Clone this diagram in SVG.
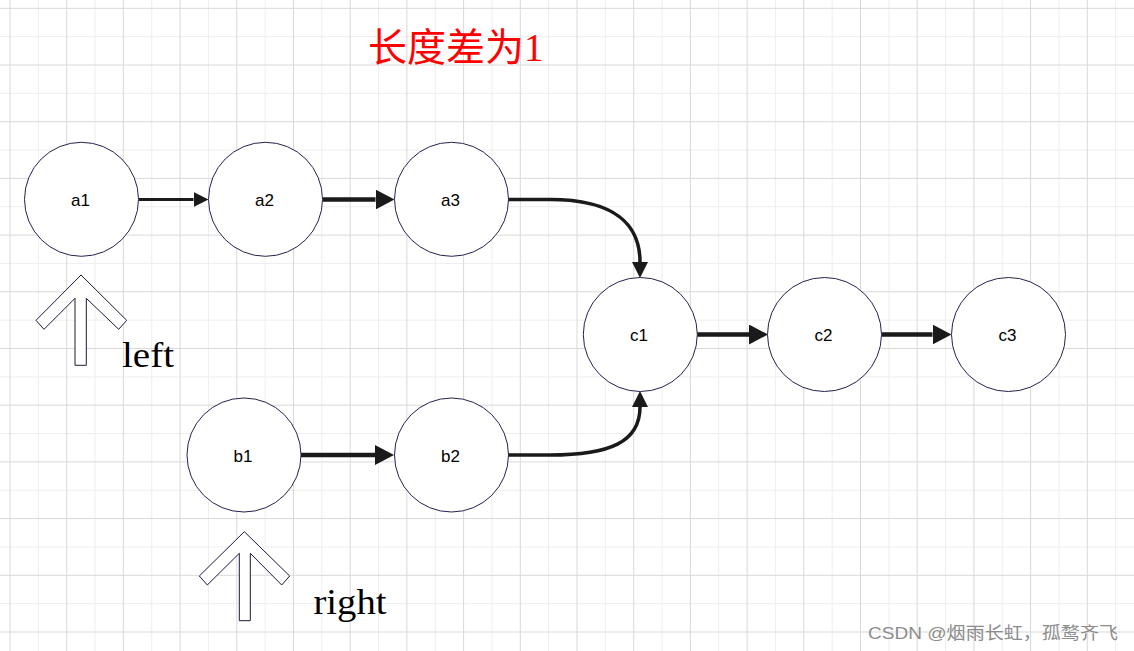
<svg xmlns="http://www.w3.org/2000/svg" width="1134" height="651" viewBox="0 0 1134 651">
<style>
.gd{stroke:#d9d9d9;stroke-width:1;fill:none}
.gl{stroke:#eeeeee;stroke-width:1;fill:none}
.node circle{fill:#ffffff;stroke:#23234f;stroke-width:1}
.node text{font-family:"Liberation Sans","Noto Sans",sans-serif;font-size:17px;fill:#000;text-anchor:middle}
.edge{fill:none;stroke:#1a1a1a}
.hollow{fill:#ffffff;stroke:#1a1a3a;stroke-width:1}
.lbl{font-family:"Liberation Serif",serif;font-size:36px;fill:#000}
</style>
<defs>
<marker id="hS" markerUnits="userSpaceOnUse" markerWidth="16" markerHeight="16" refX="0" refY="7.5" orient="auto" viewBox="0 0 16 16"><path d="M0,0 L15,7.5 L0,15 Z" fill="#1a1a1a"/></marker>
<marker id="hL" markerUnits="userSpaceOnUse" markerWidth="20" markerHeight="21" refX="0" refY="10" orient="auto" viewBox="0 0 20 21"><path d="M0,0 L19,10 L0,20 Z" fill="#1a1a1a"/></marker>
<marker id="hC" markerUnits="userSpaceOnUse" markerWidth="17" markerHeight="17" refX="0" refY="8" orient="auto" viewBox="0 0 17 17"><path d="M0,0 L16,8 L0,16 Z" fill="#1a1a1a"/></marker>
</defs>
<rect width="1134" height="651" fill="#ffffff"/>
<g id="grid">
<path class="gl" d="M38.35,0V651M95.05,0V651M151.75,0V651M208.45,0V651M265.15,0V651M321.85,0V651M378.55,0V651M435.25,0V651M491.95,0V651M548.65,0V651M605.35,0V651M662.05,0V651M718.75,0V651M775.45,0V651M832.15,0V651M888.85,0V651M945.55,0V651M1002.25,0V651M1058.95,0V651M1115.65,0V651M0,36.65H1134M0,93.35H1134M0,150.05H1134M0,206.75H1134M0,263.45H1134M0,320.15H1134M0,376.85H1134M0,433.55H1134M0,490.25H1134M0,546.95H1134M0,603.65H1134"/>
<path class="gd" d="M10,0V651M66.7,0V651M123.4,0V651M180.1,0V651M236.8,0V651M293.5,0V651M350.2,0V651M406.9,0V651M463.6,0V651M520.3,0V651M577,0V651M633.7,0V651M690.4,0V651M747.1,0V651M803.8,0V651M860.5,0V651M917.2,0V651M973.9,0V651M1030.6,0V651M1087.3,0V651M0,8.3H1134M0,65H1134M0,121.7H1134M0,178.4H1134M0,235.1H1134M0,291.8H1134M0,348.5H1134M0,405.2H1134M0,461.9H1134M0,518.6H1134M0,575.3H1134M0,632H1134"/>
</g>
<text x="368" y="61" font-family="'Liberation Serif','Noto Sans CJK SC',serif" font-size="39" fill="#ff0000">长度差为1</text>
<g id="connectors">
<path class="edge" stroke-width="3" d="M138.5,199.5 H193.5" marker-end="url(#hS)"/>
<path class="edge" stroke-width="4.5" d="M322.5,199.5 H375.5" marker-end="url(#hL)"/>
<path class="edge" stroke-width="4.5" d="M301,455 H375" marker-end="url(#hL)"/>
<path class="edge" stroke-width="4.5" d="M697,334.5 H749" marker-end="url(#hL)"/>
<path class="edge" stroke-width="4.5" d="M881.5,334.5 H932.5" marker-end="url(#hL)"/>
<path class="edge" stroke-width="3.5" d="M508,199.5 H550 C615,199.5 640,225 640,262" marker-end="url(#hC)"/>
<path class="edge" stroke-width="3.5" d="M508,455 H550 C610,455 640,442 640,407" marker-end="url(#hC)"/>
</g>
<g id="a1" class="node"><circle cx="81.5" cy="199.3" r="57"/><text x="80.5" y="206">a1</text></g>
<g id="a2" class="node"><circle cx="265.5" cy="199.3" r="57"/><text x="264.5" y="206">a2</text></g>
<g id="a3" class="node"><circle cx="451.5" cy="199.3" r="57"/><text x="450.5" y="206">a3</text></g>
<g id="b1" class="node"><circle cx="244" cy="455" r="57"/><text x="243" y="462">b1</text></g>
<g id="b2" class="node"><circle cx="451.5" cy="455" r="57"/><text x="450.5" y="462">b2</text></g>
<g id="c1" class="node"><circle cx="640.3" cy="334.5" r="57"/><text x="639" y="341">c1</text></g>
<g id="c2" class="node"><circle cx="824.5" cy="334.5" r="57"/><text x="823.5" y="341">c2</text></g>
<g id="c3" class="node"><circle cx="1008.5" cy="334.5" r="57"/><text x="1007.5" y="341">c3</text></g>
<g id="left-pointer">
<polygon class="hollow" points="81,275 126.7,320.3 118.7,329.3 86.3,298.3 86.3,365.3 75,365.3 75,298.3 44,329.3 36,320.3"/>
<text class="lbl" x="122" y="366.5" textLength="52" lengthAdjust="spacingAndGlyphs">left</text>
</g>
<g id="right-pointer">
<polygon class="hollow" points="244.3,531.7 289.7,576 281.7,585 250.3,553.3 250.3,620.7 239.3,620.7 239.3,553.3 207.3,585 199.3,576"/>
<text class="lbl" x="313.5" y="614" textLength="73" lengthAdjust="spacingAndGlyphs">right</text>
</g>
<text x="868" y="639" font-family="'Liberation Sans','Noto Sans CJK SC',sans-serif" font-size="17" fill="#8c8c8c" textLength="250" lengthAdjust="spacingAndGlyphs">CSDN @烟雨长虹，孤鹜齐飞</text>
</svg>
